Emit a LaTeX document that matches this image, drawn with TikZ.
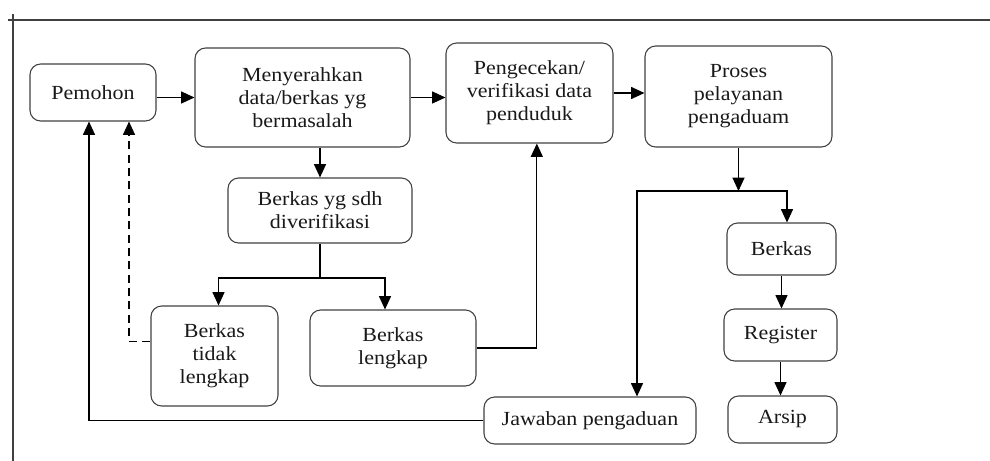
\documentclass[tikz,border=0pt]{standalone}
\usepackage{fontspec}
\setmainfont{Liberation Serif}[FakeStretch=1.1]
\usetikzlibrary{arrows.meta}
\newcommand\bx[6]{\node[box, minimum width={(#4-#2)*0.75pt}, minimum height={(#5-#3)*0.75pt}] (#1) at ({(#2+#4)/2},{(#3+#5)/2}) {#6};}
\begin{document}
\begin{tikzpicture}[x=0.75pt,y=-0.75pt,
  box/.style={draw=black!75, line width=0.8pt, rounded corners=8pt, align=center, inner sep=0pt,
    font=\fontsize{15pt}{17.3pt}\selectfont, text=black!90},
  arr/.style={line width=0.9pt, -{Triangle[length=10pt,width=9pt]}},
  ln/.style={line width=0.9pt},
  frame/.style={line width=0.9pt, draw=black!75}]
\useasboundingbox (0,0) rectangle (990,461);
\coordinate (f1) at (8,20);
\coordinate (f2) at (990,20);
\coordinate (f3) at (13,14);
\coordinate (f4) at (13,461);
\draw[frame] (f1) -- (f2);
\draw[frame] (f3) -- (f4);

\bx{pem}{30}{64}{156}{121}{Pemohon}
\bx{men}{195}{48}{410}{147}{Menyerahkan\\data/berkas yg\\bermasalah}
\bx{pen}{446}{43}{613}{143}{Pengecekan/\\verifikasi data\\penduduk}
\bx{pro}{645}{46}{832}{147}{Proses\\pelayanan\\pengaduam}
\bx{ver}{228}{178}{412}{243}{Berkas yg sdh\\diverifikasi}
\bx{tdk}{151}{306}{278}{406}{Berkas\\tidak\\lengkap}
\bx{lkp}{310}{310}{476}{386}{Berkas\\lengkap}
\bx{jaw}{484}{397}{696}{444}{Jawaban pengaduan}
\bx{brk}{727}{223}{836}{275}{Berkas}
\bx{reg}{724}{309}{837}{361}{Register}
\bx{ars}{728}{396}{837}{443}{Arsip}

\coordinate (j1) at (320,278);
\coordinate (j2) at (738.5,191);
\coordinate (jl) at (637,191);
\coordinate (jr) at (787,191);

\draw[arr] (pem.east |- men.west) -- (men.west);
\draw[arr] (men.east) -- (men.east -| pen.west);
\draw[arr] (pen.east) -- (pen.east -| pro.west);
\draw[arr] (ver.north |- men.south) -- (ver.north);
\draw[ln] (ver.south) -- (j1);
\draw[arr] (j1) -| ([xshift=3pt]tdk.north);
\draw[arr] (j1) -| ([xshift=-6pt]lkp.north);
\draw[arr] (lkp.east) -| ([xshift=5.5pt]pen.south);
\draw[arr, dashed, dash pattern=on 6pt off 4pt] ([yshift=11pt]tdk.west) -| ([xshift=27pt]pem.south);
\draw[arr] (jaw.west) -| ([xshift=-3pt]pem.south);
\draw[arr] (pro.south) -- (j2);
\draw[arr] (j2) -- (jl) -- (jl |- jaw.north);
\draw[arr] (j2) -- (jr) -- (jr |- brk.north);
\draw[arr] (brk.south) -- (brk.south |- reg.north);
\draw[arr] (reg.south) -- (reg.south |- ars.north);
\end{tikzpicture}
\end{document}
